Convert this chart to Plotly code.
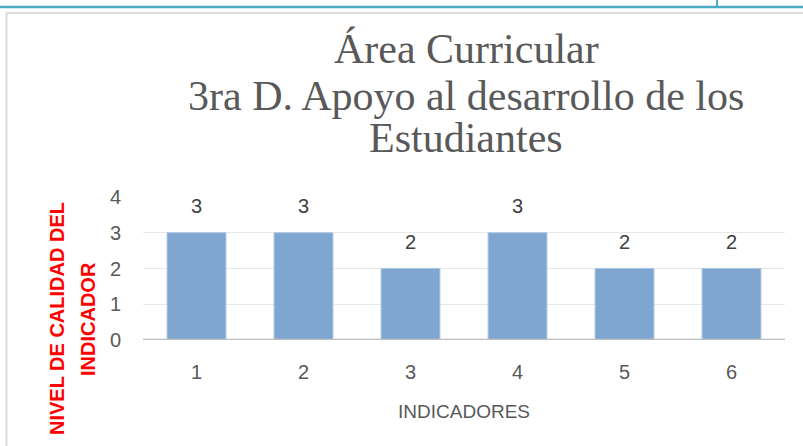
import plotly.graph_objects as go

categories = ["1", "2", "3", "4", "5", "6"]
values = [3, 3, 2, 3, 2, 2]
y_ticks = [0, 1, 2, 3, 4]

title_lines = ["Área Curricular", "3ra D. Apoyo al desarrollo de los", "Estudiantes"]
x_title = "INDICADORES"
y_title_lines = ["NIVEL DE CALIDAD DEL", "INDICADOR"]

W, H = 803, 446
L, R, T, B = 143, 18, 197, 106
pw, ph = W - L - R, H - T - B

def px(x):
    return (x - L) / pw

def py(y):
    return (H - B - y) / ph

SANS = "Liberation Sans"

fig = go.Figure()
fig.add_trace(go.Bar(
    x=categories, y=values,
    marker=dict(color="#7FA6D0", line=dict(color="#A9C4E2", width=1)),
    hoverinfo="x+y",
))

fig.update_layout(
    width=W, height=H,
    margin=dict(l=L, r=R, t=T, b=B),
    paper_bgcolor="white", plot_bgcolor="white",
    bargap=0.45,
    showlegend=False,
    xaxis=dict(type="category", showgrid=False, showline=False, ticks="", ticklabelstandoff=18,
               tickfont=dict(family=SANS, size=20, color="#595959"),
               title=dict(text=x_title, standoff=22,
                          font=dict(family=SANS, size=19, color="#595959"))),
    yaxis=dict(range=[0, 4], tickvals=y_ticks, showgrid=True, gridcolor="#E8E8E8", gridwidth=1,
               zeroline=False, showline=False, ticks="", ticklabelstandoff=21,
               tickfont=dict(family=SANS, size=20, color="#595959")),
    font=dict(family=SANS),
)

# data labels (x given as category index)
for i, v in enumerate(values):
    fig.add_annotation(x=i, y=v, xref="x", yref="y", text=str(v), showarrow=False,
                       yanchor="bottom", yshift=14,
                       font=dict(family=SANS, size=20, color="#404040"))

# title lines
title_mid_y = [49, 96, 138]
for t, yy in zip(title_lines, title_mid_y):
    fig.add_annotation(text=t, xref="paper", yref="paper", x=px(466), y=py(yy),
                       xanchor="center", yanchor="middle", showarrow=False,
                       font=dict(family="Liberation Serif", size=42, color="#595959"))

# y-axis title lines (rotated)
for t, xx in zip(y_title_lines, [57, 88]):
    fig.add_annotation(text=t, textangle=-90, xref="paper", yref="paper",
                       x=px(xx), y=py(319), xanchor="center", yanchor="middle", showarrow=False,
                       font=dict(family=SANS, size=20, color="#FF0000", weight="bold"))

shapes = [
    dict(type="line", xref="paper", yref="y", x0=0, x1=1, y0=0, y1=0, line=dict(color="#BFBFBF", width=2.5)),
    dict(type="line", xref="paper", yref="paper", x0=px(0), x1=px(W), y0=py(7), y1=py(7), line=dict(color="#4BACC6", width=2.5)),
    dict(type="line", xref="paper", yref="paper", x0=px(717), x1=px(717), y0=py(0), y1=py(7), line=dict(color="#4BACC6", width=2)),
    dict(type="line", xref="paper", yref="paper", x0=px(6), x1=px(W), y0=py(13), y1=py(13), line=dict(color="#DCDCDC", width=2)),
    dict(type="line", xref="paper", yref="paper", x0=px(6.5), x1=px(6.5), y0=py(12), y1=py(H), line=dict(color="#DCDCDC", width=2)),
]
fig.update_layout(shapes=shapes)

fig.write_html("out.html", config={"displayModeBar": False},
               post_script="document.body.style.margin='0';")
